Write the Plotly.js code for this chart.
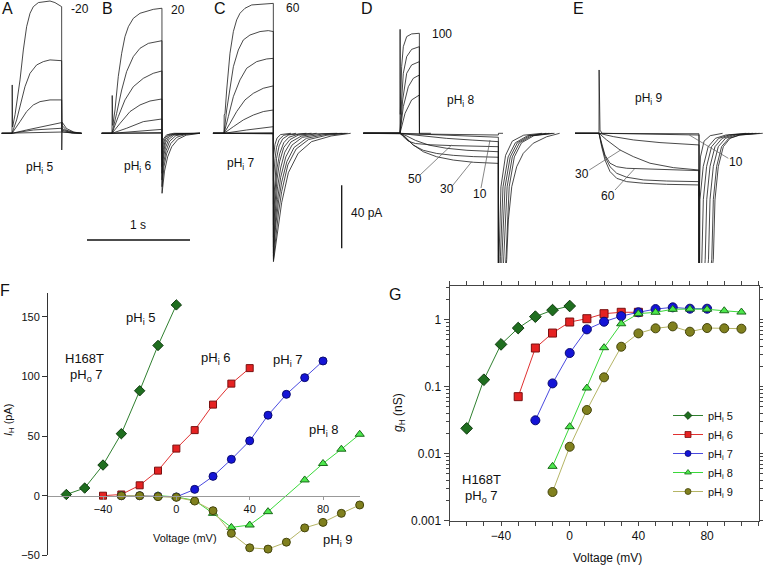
<!DOCTYPE html>
<html><head><meta charset="utf-8">
<script src="https://cdn.plot.ly/plotly-3.0.1.min.js"></script>
<style>html,body{margin:0;padding:0;background:#fff}#chart{width:763px;height:565px}</style>
</head><body><div id="chart"></div>
<script>
// ================= DATA =================
// Panel F: I-V relations (mV, pA)
const fV5 = [-60,-50,-40,-30,-20,-10,0];
const fI5 = [1,6.4,25.7,52,88,126,160];
const fV6 = [-40,-30,-20,-10,0,10,20,30,40];
const fI6 = [0,1,8.7,21,39.5,55,76.4,94,107];
const fV7 = [-30,-20,-10,0,10,20,30,40,50,60,70,80];
const fI7 = [0,0,-0.5,-1,5.3,16.2,30.5,46,67.5,85,99,113];
const fV8 = [-10,0,10,20,30,40,50,70,80,90,100];
const fI8 = [0,-1,-4,-14.8,-26.6,-24.6,-13.4,13.2,27,39,51.5];
const fV9 = [-30,-20,-10,0,10,20,30,40,50,60,70,80,90,100];
const fI9 = [0,0,-0.8,-1.4,-4.5,-12.6,-31.6,-43.7,-44.8,-39,-27,-22.4,-14.8,-7.8];

// Panel G: conductance (mV, nS)
const gV5 = [-60,-50,-40,-30,-20,-10,0];
const gG5 = [0.0239,0.127,0.428,0.75,1.11,1.39,1.6];
const gV6 = [-30,-20,-10,0,10,20,30,40];
const gG6 = [0.071,0.378,0.632,0.923,1.035,1.23,1.29,1.29];
const gV7 = [-20,-10,0,10,20,30,40,50,60,70,80];
const gG7 = [0.0315,0.112,0.318,0.717,0.933,1.13,1.29,1.44,1.53,1.46,1.46];
const gV8 = [-10,0,10,20,30,40,50,60,70,80,90,100];
const gG8 = [0.00647,0.0253,0.0955,0.382,0.87,1.23,1.29,1.43,1.44,1.43,1.36,1.3];
const gV9 = [-10,0,10,20,30,40,50,60,70,80,90,100];
const gG9 = [0.00268,0.0127,0.0449,0.138,0.395,0.625,0.743,0.795,0.662,0.751,0.743,0.734];

const seriesNames = ['pH<sub>i</sub> 5','pH<sub>i</sub> 6','pH<sub>i</sub> 7','pH<sub>i</sub> 8','pH<sub>i</sub> 9'];

// Current traces, [time (s) from pulse start, current (pA)]
const tracesA = [
 [[-0.1,0],[0,0],[0.002,30.7],[0.006,4],[0.03,12],[0.055,24],[0.078,33.9],[0.11,52.9],[0.142,67.7],[0.175,76.2],[0.207,80.4],[0.256,83],[0.304,83.6],[0.369,84],[0.417,83],[0.482,80.4],[0.483,-10.6],[0.487,7],[0.53,3],[0.6,0.8],[0.676,0]],
 [[-0.1,0],[0,0],[0.045,8.5],[0.078,16.9],[0.126,29.6],[0.175,38.1],[0.239,43.4],[0.304,45.5],[0.369,46.6],[0.482,46.1],[0.485,5],[0.53,2],[0.6,0.5],[0.676,0]],
 [[-0.1,0],[0,0],[0.078,7.4],[0.142,13.8],[0.207,18],[0.272,20.1],[0.369,21.2],[0.482,21.2],[0.485,3],[0.55,1],[0.676,0]],
 [[-0.1,0],[0,0],[0.142,2.1],[0.272,3.8],[0.482,6.8],[0.485,2],[0.58,0.3],[0.676,0]],
 [[-0.1,0],[0,0],[0.207,2.1],[0.482,3.2],[0.485,1],[0.6,0],[0.676,0]],
 [[-0.1,0],[0.482,0.8],[0.676,0]]
];
const tracesB = [
 [[-0.1,0],[0,0],[0.002,24],[0.008,5],[0.029,14.8],[0.061,36],[0.094,50.8],[0.126,61.4],[0.159,67.7],[0.207,73],[0.272,76.2],[0.337,77.7],[0.401,78.7],[0.485,79.4],[0.486,-38.1],[0.51,-24],[0.54,-15],[0.58,-8.5],[0.64,-3.8],[0.72,-1.2],[0.854,0]],
 [[-0.1,0],[0,0],[0.045,12.7],[0.094,27.5],[0.142,39.2],[0.207,48.7],[0.272,54],[0.353,57.1],[0.485,58.8],[0.486,-33.9],[0.505,-21],[0.53,-13],[0.57,-6.5],[0.63,-2.5],[0.72,-0.6],[0.854,0]],
 [[-0.1,0],[0,0],[0.061,10.6],[0.126,21.2],[0.207,29.6],[0.304,34.9],[0.401,38.1],[0.485,39.6],[0.486,-29.6],[0.5,-19],[0.525,-11],[0.56,-5],[0.62,-1.5],[0.72,-0.3],[0.854,0]],
 [[-0.1,0],[0,0],[0.078,6.3],[0.175,13.8],[0.272,18],[0.369,20.5],[0.485,21.8],[0.486,-25.4],[0.5,-15],[0.52,-9],[0.55,-4],[0.6,-1.2],[0.7,-0.2],[0.854,0]],
 [[-0.1,0],[0,0],[0.142,3.2],[0.304,7.4],[0.485,9.1],[0.486,-21.2],[0.5,-12],[0.52,-6],[0.55,-2.5],[0.6,-0.6],[0.854,0]],
 [[-0.1,0],[0,0],[0.485,2.5],[0.486,-16.9],[0.5,-9],[0.52,-4],[0.55,-1.5],[0.62,-0.2],[0.854,0]],
 [[-0.1,0],[0.485,0.5],[0.486,-12.7],[0.5,-6],[0.52,-2.5],[0.56,-0.6],[0.854,0]],
 [[-0.1,0],[0.485,0],[0.486,-8.5],[0.5,-3.5],[0.53,-1],[0.6,0],[0.854,0]]
];
const tracesC = [
 [[-0.107,0],[0,0],[0.002,11.6],[0.0097,12.7],[0.026,27.5],[0.042,40.2],[0.058,50.8],[0.091,64.6],[0.123,72],[0.155,76.2],[0.204,79.4],[0.269,81.5],[0.382,82.1],[0.479,82.5],[0.48,-81.5],[0.5,-72],[0.53,-58],[0.56,-44],[0.625,-25],[0.72,-12.7],[0.85,-5.3],[1.04,-1.7],[1.23,0]],
 [[-0.107,0],[0,0],[0.026,14.8],[0.058,29.6],[0.091,42.3],[0.139,52.9],[0.188,59.3],[0.252,62.4],[0.35,64.6],[0.43,65.2],[0.479,64.6],[0.48,-80],[0.5,-66],[0.53,-50],[0.56,-37],[0.62,-20],[0.7,-10],[0.82,-4],[1.0,-1.2],[1.2,0]],
 [[-0.107,0],[0,0],[0.042,10.6],[0.091,23.3],[0.155,33.9],[0.22,41.3],[0.317,45.5],[0.414,47.2],[0.479,47.6],[0.48,-78],[0.5,-60],[0.53,-43],[0.56,-31],[0.61,-18],[0.68,-9],[0.8,-3.2],[0.98,-0.8],[1.18,0]],
 [[-0.107,0],[0,0],[0.058,6.3],[0.123,13.8],[0.204,21.2],[0.285,25.4],[0.382,28.6],[0.479,30.1],[0.48,-76],[0.5,-55],[0.52,-42],[0.55,-28],[0.6,-15],[0.66,-7.5],[0.76,-2.6],[0.95,-0.5],[1.15,0]],
 [[-0.107,0],[0,0],[0.091,4.2],[0.188,8.5],[0.285,11.6],[0.382,13.8],[0.479,14.8],[0.48,-72],[0.5,-48],[0.52,-34],[0.55,-22],[0.59,-12],[0.65,-5.5],[0.75,-1.8],[0.9,-0.3],[1.1,0]],
 [[-0.107,0],[0,0],[0.22,2.1],[0.479,4.2],[0.48,-66],[0.495,-45],[0.515,-29],[0.54,-18],[0.58,-9],[0.64,-4],[0.72,-1.2],[0.9,0]],
 [[-0.107,0],[0.479,0.3],[0.48,-58],[0.495,-37],[0.515,-22],[0.54,-13],[0.58,-6],[0.63,-2.5],[0.72,-0.6],[0.85,0]],
 [[-0.107,0],[0.479,0],[0.48,-45],[0.495,-27],[0.51,-16],[0.535,-8],[0.57,-3.5],[0.63,-1],[0.8,0]],
 [[-0.107,0],[0.479,-0.2],[0.48,-30],[0.495,-16],[0.51,-9],[0.535,-4],[0.58,-1.2],[0.7,0]],
 [[-0.107,0],[0.479,-0.3],[0.48,-15],[0.495,-7],[0.515,-3],[0.55,-0.8],[0.65,0]]
];
const tracesD = [
 [[-0.356,0],[0,0],[0.001,66],[0.003,12],[0.0065,21.2],[0.016,42.3],[0.032,55],[0.065,61.4],[0.113,63.1],[0.188,63.5],[0.189,0],[0.3,0]],
 [[-0.356,0],[0,0],[0.016,21.2],[0.032,38.1],[0.065,48.7],[0.113,53.3],[0.188,55],[0.189,0]],
 [[-0.356,0],[0,0],[0.026,21.2],[0.065,38.1],[0.113,43.4],[0.188,45.5],[0.189,0]],
 [[-0.356,0],[0,0],[0.032,16.9],[0.081,29.6],[0.129,34.9],[0.188,37],[0.189,0]],
 [[-0.356,0],[0,0],[0.049,12.7],[0.113,21.2],[0.188,24.3],[0.189,0]],
 [[-0.356,0],[0,0],[0.049,-2.2],[0.129,-7.4],[0.226,-11.7],[0.356,-14.9],[0.518,-17],[0.712,-18.4],[0.955,-19.1],[0.956,-150],[1.036,-80],[1.052,-55],[1.085,-33.9],[1.133,-21.2],[1.197,-12.7],[1.294,-6.3],[1.424,-2.2],[1.55,0]],
 [[-0.356,0],[0,0],[0.049,-2.5],[0.129,-7.5],[0.226,-10.8],[0.356,-12.8],[0.518,-14],[0.712,-14.8],[0.955,-15.2],[0.956,-150],[1.03,-78],[1.06,-34],[1.11,-15],[1.18,-6],[1.3,-1.5],[1.5,0]],
 [[-0.356,0],[0,0],[0.06,-1.5],[0.15,-4.5],[0.28,-7.5],[0.45,-9.5],[0.65,-10.8],[0.955,-11.7],[0.956,-150],[1.01,-78],[1.04,-34],[1.09,-15],[1.16,-6],[1.28,-1.5],[1.48,0]],
 [[-0.356,0],[0,0],[0.03,-2],[0.08,-5],[0.15,-6.5],[0.3,-7.3],[0.5,-7.8],[0.955,-8.5],[0.956,-150],[0.99,-78],[1.02,-34],[1.07,-15],[1.14,-6],[1.26,-1.5],[1.45,0]],
 [[-0.356,0],[0,0],[0.1,-0.8],[0.25,-2],[0.45,-3.2],[0.7,-4.3],[0.955,-5.3],[0.956,-150],[0.975,-78],[1.0,-34],[1.05,-15],[1.12,-6],[1.24,-1.5],[1.42,0]],
 [[-0.356,0],[0,0],[0.3,-0.8],[0.6,-1.7],[0.955,-2.5],[0.956,-120],[0.962,-78],[0.98,-34],[1.025,-14],[1.09,-5],[1.2,-1.2],[1.38,0]],
 [[-0.356,0],[0.5,-0.5],[0.955,-1.1],[0.956,0],[1.0,0]]
];
const tracesE = [
 [[-0.233,0],[0,0],[0.026,-8.5],[0.058,-16.9],[0.107,-24.3],[0.172,-28.6],[0.269,-30.7],[0.43,-31.7],[0.657,-32.4],[0.971,-32.8],[0.972,-150],[1.11,-80],[1.126,-42.3],[1.158,-21.2],[1.207,-8.5],[1.272,-3.2],[1.369,-1.1],[1.59,0]],
 [[-0.233,0],[0,0],[0.026,-7.4],[0.058,-14.8],[0.107,-21.2],[0.172,-25.4],[0.269,-27.9],[0.43,-29.6],[0.657,-30.3],[0.971,-30.7],[0.972,-150],[1.095,-80],[1.11,-42],[1.142,-21],[1.19,-8.5],[1.26,-3.2],[1.36,-1.1],[1.56,0]],
 [[-0.233,0],[0,0],[0.026,-6.3],[0.058,-13.8],[0.107,-19],[0.172,-21.2],[0.269,-22.2],[0.43,-22.6],[0.657,-23.3],[0.971,-23.7],[0.972,-150],[1.063,-80],[1.078,-42],[1.11,-21],[1.158,-8.5],[1.228,-3.2],[1.328,-1.1],[1.528,0]],
 [[-0.233,0],[0,0],[0.074,-4.2],[0.204,-10.6],[0.333,-14.8],[0.495,-19],[0.722,-21.8],[0.971,-23.3],[0.972,-150],[1.031,-80],[1.046,-42],[1.078,-21],[1.126,-8.5],[1.196,-3.2],[1.296,-1.1],[1.496,0]],
 [[-0.233,0],[0,0],[0.139,-2.1],[0.333,-4.2],[0.592,-5.9],[0.971,-7.4],[0.972,-150],[0.998,-80],[1.013,-42],[1.045,-21],[1.093,-8.5],[1.163,-3.2],[1.263,-1.1],[1.46,0]],
 [[-0.233,0],[0,0],[0.001,40.2],[0.004,8],[0.01,2],[0.03,0],[0.971,-1.1],[0.972,-150],[0.975,-80],[0.98,-42],[1.012,-21],[1.06,-8.5],[1.13,-3.2],[1.23,-1.1],[1.43,0]],
 [[-0.233,0],[0.971,-0.3],[0.972,-40],[0.985,-15],[1.02,-5],[1.08,-1.5],[1.2,0]]
];
// scale bars (values)
const scaleTime = 1;     // s
const scaleCurrent = 40; // pA

// ================= LAYOUT CONSTANTS (pixels) =================
const W = 763, H = 565;
const PX_PER_S = 103, PX_PER_PA = 1.575;
const TR_TOP = 0, TR_BOTTOM = 263, BASE_Y = 133.3;
const panelPx = {A:{L:0,R:96,S:12}, B:{L:96,R:206,S:112}, C:{L:206,R:357,S:224}, D:{L:357,R:568,S:400}, E:{L:568,R:763,S:599}};
const px = x => x / W, py = y => 1 - y / H;

const FONT = 'Liberation Sans, Arial, sans-serif';
const data = [];
const layout = {
  width: W, height: H, margin: {l:0, r:0, t:0, b:0},
  paper_bgcolor: '#fff', plot_bgcolor: 'rgba(0,0,0,0)',
  font: {family: FONT, size: 12, color: '#111'},
  showlegend: true,
  annotations: [], shapes: []
};

// shared y axis for traces
layout.yaxis2 = {domain: [py(TR_BOTTOM), py(TR_TOP)], range: [-(TR_BOTTOM - BASE_Y) / PX_PER_PA, (BASE_Y - TR_TOP) / PX_PER_PA],
  visible: false, fixedrange: true, anchor: 'x3'};
const panelAxes = {A:'x3', B:'x4', C:'x5', D:'x6', E:'x7'};
const panelData = {A:tracesA, B:tracesB, C:tracesC, D:tracesD, E:tracesE};
Object.keys(panelPx).forEach(k => {
  const p = panelPx[k];
  const ax = panelAxes[k];
  layout['xaxis' + ax.slice(1)] = {domain: [px(p.L), px(p.R)], range: [(p.L - p.S) / PX_PER_S, (p.R - p.S) / PX_PER_S],
    visible: false, fixedrange: true, anchor: 'y2'};
  panelData[k].forEach(tr => data.push({type: 'scatter', mode: 'lines', x: tr.map(q => q[0]), y: tr.map(q => q[1]),
    xaxis: ax, yaxis: 'y2', line: {color: '#1a1a1a', width: 0.8}, showlegend: false, hoverinfo: 'skip'}));
});
// scale-bar axis (whole width, same scale)
layout.xaxis8 = {domain: [0, 1], range: [0, W / PX_PER_S], visible: false, fixedrange: true, anchor: 'y2'};
const barT0 = 87 / PX_PER_S, barI = -(240 - BASE_Y) / PX_PER_PA;
data.push({type:'scatter', mode:'lines', x:[barT0, barT0 + scaleTime], y:[barI, barI], xaxis:'x8', yaxis:'y2',
  line:{color:'#111', width:1.3}, showlegend:false, hoverinfo:'skip'});
const vbarT = 341.7 / PX_PER_S, vbarI0 = -(248.3 - BASE_Y) / PX_PER_PA;
data.push({type:'scatter', mode:'lines', x:[vbarT, vbarT], y:[vbarI0, vbarI0 + scaleCurrent], xaxis:'x8', yaxis:'y2',
  line:{color:'#111', width:1.3}, showlegend:false, hoverinfo:'skip'});

// ---- Panels F and G ----
const styles = [
  {sym:'diamond', fill:'#1f6e1f', edge:'#0e3a0e', line:'#2f802f', sF:8, sG:9},
  {sym:'square', fill:'#e52222', edge:'#7a1010', line:'#e03030', sF:7, sG:8},
  {sym:'circle', fill:'#1414d6', edge:'#0a0a70', line:'#4a4ae0', sF:8, sG:9},
  {sym:'triangle-up', fill:'#4ce84c', edge:'#1a6a1a', line:'#3ad83a', sF:8, sG:8},
  {sym:'circle', fill:'#80801e', edge:'#45450c', line:'#b5b565', sF:8, sG:9}
];
const fX = [fV5,fV6,fV7,fV8,fV9], fY = [fI5,fI6,fI7,fI8,fI9];
const gX = [gV5,gV6,gV7,gV8,gV9], gY = [gG5,gG6,gG7,gG8,gG9];
for (let k = 0; k < 5; k++) {
  const s = styles[k];
  data.push({type:'scatter', mode:'lines+markers', x:fX[k], y:fY[k], xaxis:'x', yaxis:'y', cliponaxis:false,
    line:{color:s.line, width:1}, marker:{symbol:s.sym, size:s.sF, color:s.fill, line:{color:s.edge, width:1}},
    showlegend:false, hoverinfo:'skip'});
}
for (let k = 0; k < 5; k++) {
  const s = styles[k];
  data.push({type:'scatter', mode:'lines+markers', name: seriesNames[k], x:gX[k], y:gY[k], xaxis:'x2', yaxis:'y3', cliponaxis:false,
    line:{color:s.line, width:1}, marker:{symbol:s.sym, size:s.sG, color:s.fill, line:{color:s.edge, width:1}},
    showlegend:false, hoverinfo:'skip'});
}
// legend entries (small symbols, no data of their own)
for (let k = 0; k < 5; k++) {
  const s = styles[k];
  data.push({type:'scatter', mode:'lines+markers', name: seriesNames[k], x:[null], y:[null], xaxis:'x2', yaxis:'y3',
    line:{color:s.line, width:1}, marker:{symbol:s.sym, size:6, color:s.fill, line:{color:s.edge, width:0.8}},
    showlegend:true, hoverinfo:'skip'});
}
const fYRange = [-50, 170];
const fYDom = [py(555.3), py(293)];
layout.yaxis = {domain: fYDom, range: fYRange, anchor:'x', showline:true, linecolor:'#333', linewidth:1,
  ticks:'outside', ticklen:5, tickcolor:'#333', tickvals:[-50,0,50,100,150], showgrid:false, zeroline:false,
  tickfont:{size:11}, fixedrange:true};
layout.xaxis = {domain: [px(48), px(359.7)], range: [-70, 100], anchor:'free',
  position: fYDom[0] + (0 - fYRange[0]) / (fYRange[1] - fYRange[0]) * (fYDom[1] - fYDom[0]),
  showline:true, linecolor:'#999', linewidth:1, ticks:'outside', ticklen:3, tickcolor:'#999',
  tickvals:[-40,0,40,80], showgrid:false, zeroline:false, tickfont:{size:11}, fixedrange:true};

const minorLog = [];
[0.001,0.01,0.1,1].forEach(d => { for (let m = 2; m <= 9; m++) { const v = d*m; if (v < 3.2) minorLog.push(v); } });
layout.xaxis2 = {domain: [px(449.5), px(758.6)], range: [-70, 110], anchor:'y3',
  showline:true, mirror:'allticks', linecolor:'#444', linewidth:1, ticks:'outside', ticklen:4, tickcolor:'#444',
  tickvals:[-40,0,40,80], minor:{dtick:10, tick0:0, ticks:'outside', ticklen:4, tickcolor:'#444'},
  showgrid:false, zeroline:false, tickfont:{size:12}, fixedrange:true};
layout.yaxis3 = {type:'log', domain: [py(520.7), py(286.2)], range: [-3, 0.5], anchor:'x2',
  showline:true, mirror:'allticks', linecolor:'#444', linewidth:1, ticks:'outside', ticklen:5, tickcolor:'#444',
  tickvals:[0.001,0.01,0.1,1], ticktext:['0.001','0.01','0.1','1'],
  minor:{tickvals:minorLog, ticks:'outside', ticklen:3, tickcolor:'#444'},
  showgrid:false, zeroline:false, tickfont:{size:12}, fixedrange:true};
layout.legend = {x: px(668), y: py(401), xanchor:'left', yanchor:'top', bgcolor:'rgba(0,0,0,0)',
  font:{size:11}, itemwidth:30, tracegroupgap:0};

// ---- text ----
function ann(text, x, y, size, extra) {
  layout.annotations.push(Object.assign({text: text, x: px(x), y: py(y), xref:'paper', yref:'paper',
    showarrow:false, xanchor:'center', yanchor:'middle', font:{size: size, family: FONT, color:'#111'}}, extra || {}));
}
ann('A', 7, 8, 16); ann('B', 107, 8, 16); ann('C', 220, 8, 16); ann('D', 367, 8, 16); ann('E', 578, 8, 16);
ann('F', 5, 290, 16); ann('G', 395, 294, 16);
ann('-20', 80, 9, 12); ann('20', 178, 10, 12); ann('60', 293, 8, 12); ann('100', 442, 34, 12);
ann('pH<sub>i</sub> 5', 40, 168, 12); ann('pH<sub>i</sub> 6', 138, 167, 12); ann('pH<sub>i</sub> 7', 241, 164, 12);
ann('pH<sub>i</sub> 8', 461, 101, 12); ann('pH<sub>i</sub> 9', 649, 99, 12);
ann('1 s', 138, 225, 12); ann('40 pA', 366, 213, 12);
ann('50', 415, 179, 12); ann('30', 447, 189, 12); ann('10', 480, 194, 12);
ann('30', 582, 174, 12); ann('60', 608, 196, 12); ann('10', 736, 162, 12);
// panel F text
ann('pH<sub>i</sub> 5', 141, 318, 13); ann('H168T', 84, 358, 13); ann('pH<sub>o</sub> 7', 86, 375, 13);
ann('pH<sub>i</sub> 6', 216, 358, 13); ann('pH<sub>i</sub> 7', 288, 361, 13); ann('pH<sub>i</sub> 8', 324, 430, 13);
ann('pH<sub>i</sub> 9', 338, 540, 13); ann('Voltage (mV)', 185, 538, 11);
ann('<i>I</i><sub>H</sub> (pA)', 9, 420, 11, {textangle:-90});
// panel G text
ann('H168T', 481, 479, 13); ann('pH<sub>o</sub> 7', 482, 496, 13);
ann('<i>g</i><sub>H</sub> (nS)', 399, 413, 12, {textangle:-90}); ann('Voltage (mV)', 607, 558, 12);

// leader lines
function lead(x0, y0, x1, y1) {
  layout.shapes.push({type:'line', xref:'paper', yref:'paper', x0:px(x0), y0:py(y0), x1:px(x1), y1:py(y1),
    line:{color:'#555', width:0.7}});
}
lead(420,175,451.7,145); lead(451.7,186.7,471.7,161.7); lead(481,188,490,140);
lead(589.3,170,620.7,150); lead(615,190,635,168.3); lead(728.3,158.3,689.3,135);

Plotly.newPlot('chart', data, layout, {staticPlot:true, displayModeBar:false});
</script>
</body></html>
